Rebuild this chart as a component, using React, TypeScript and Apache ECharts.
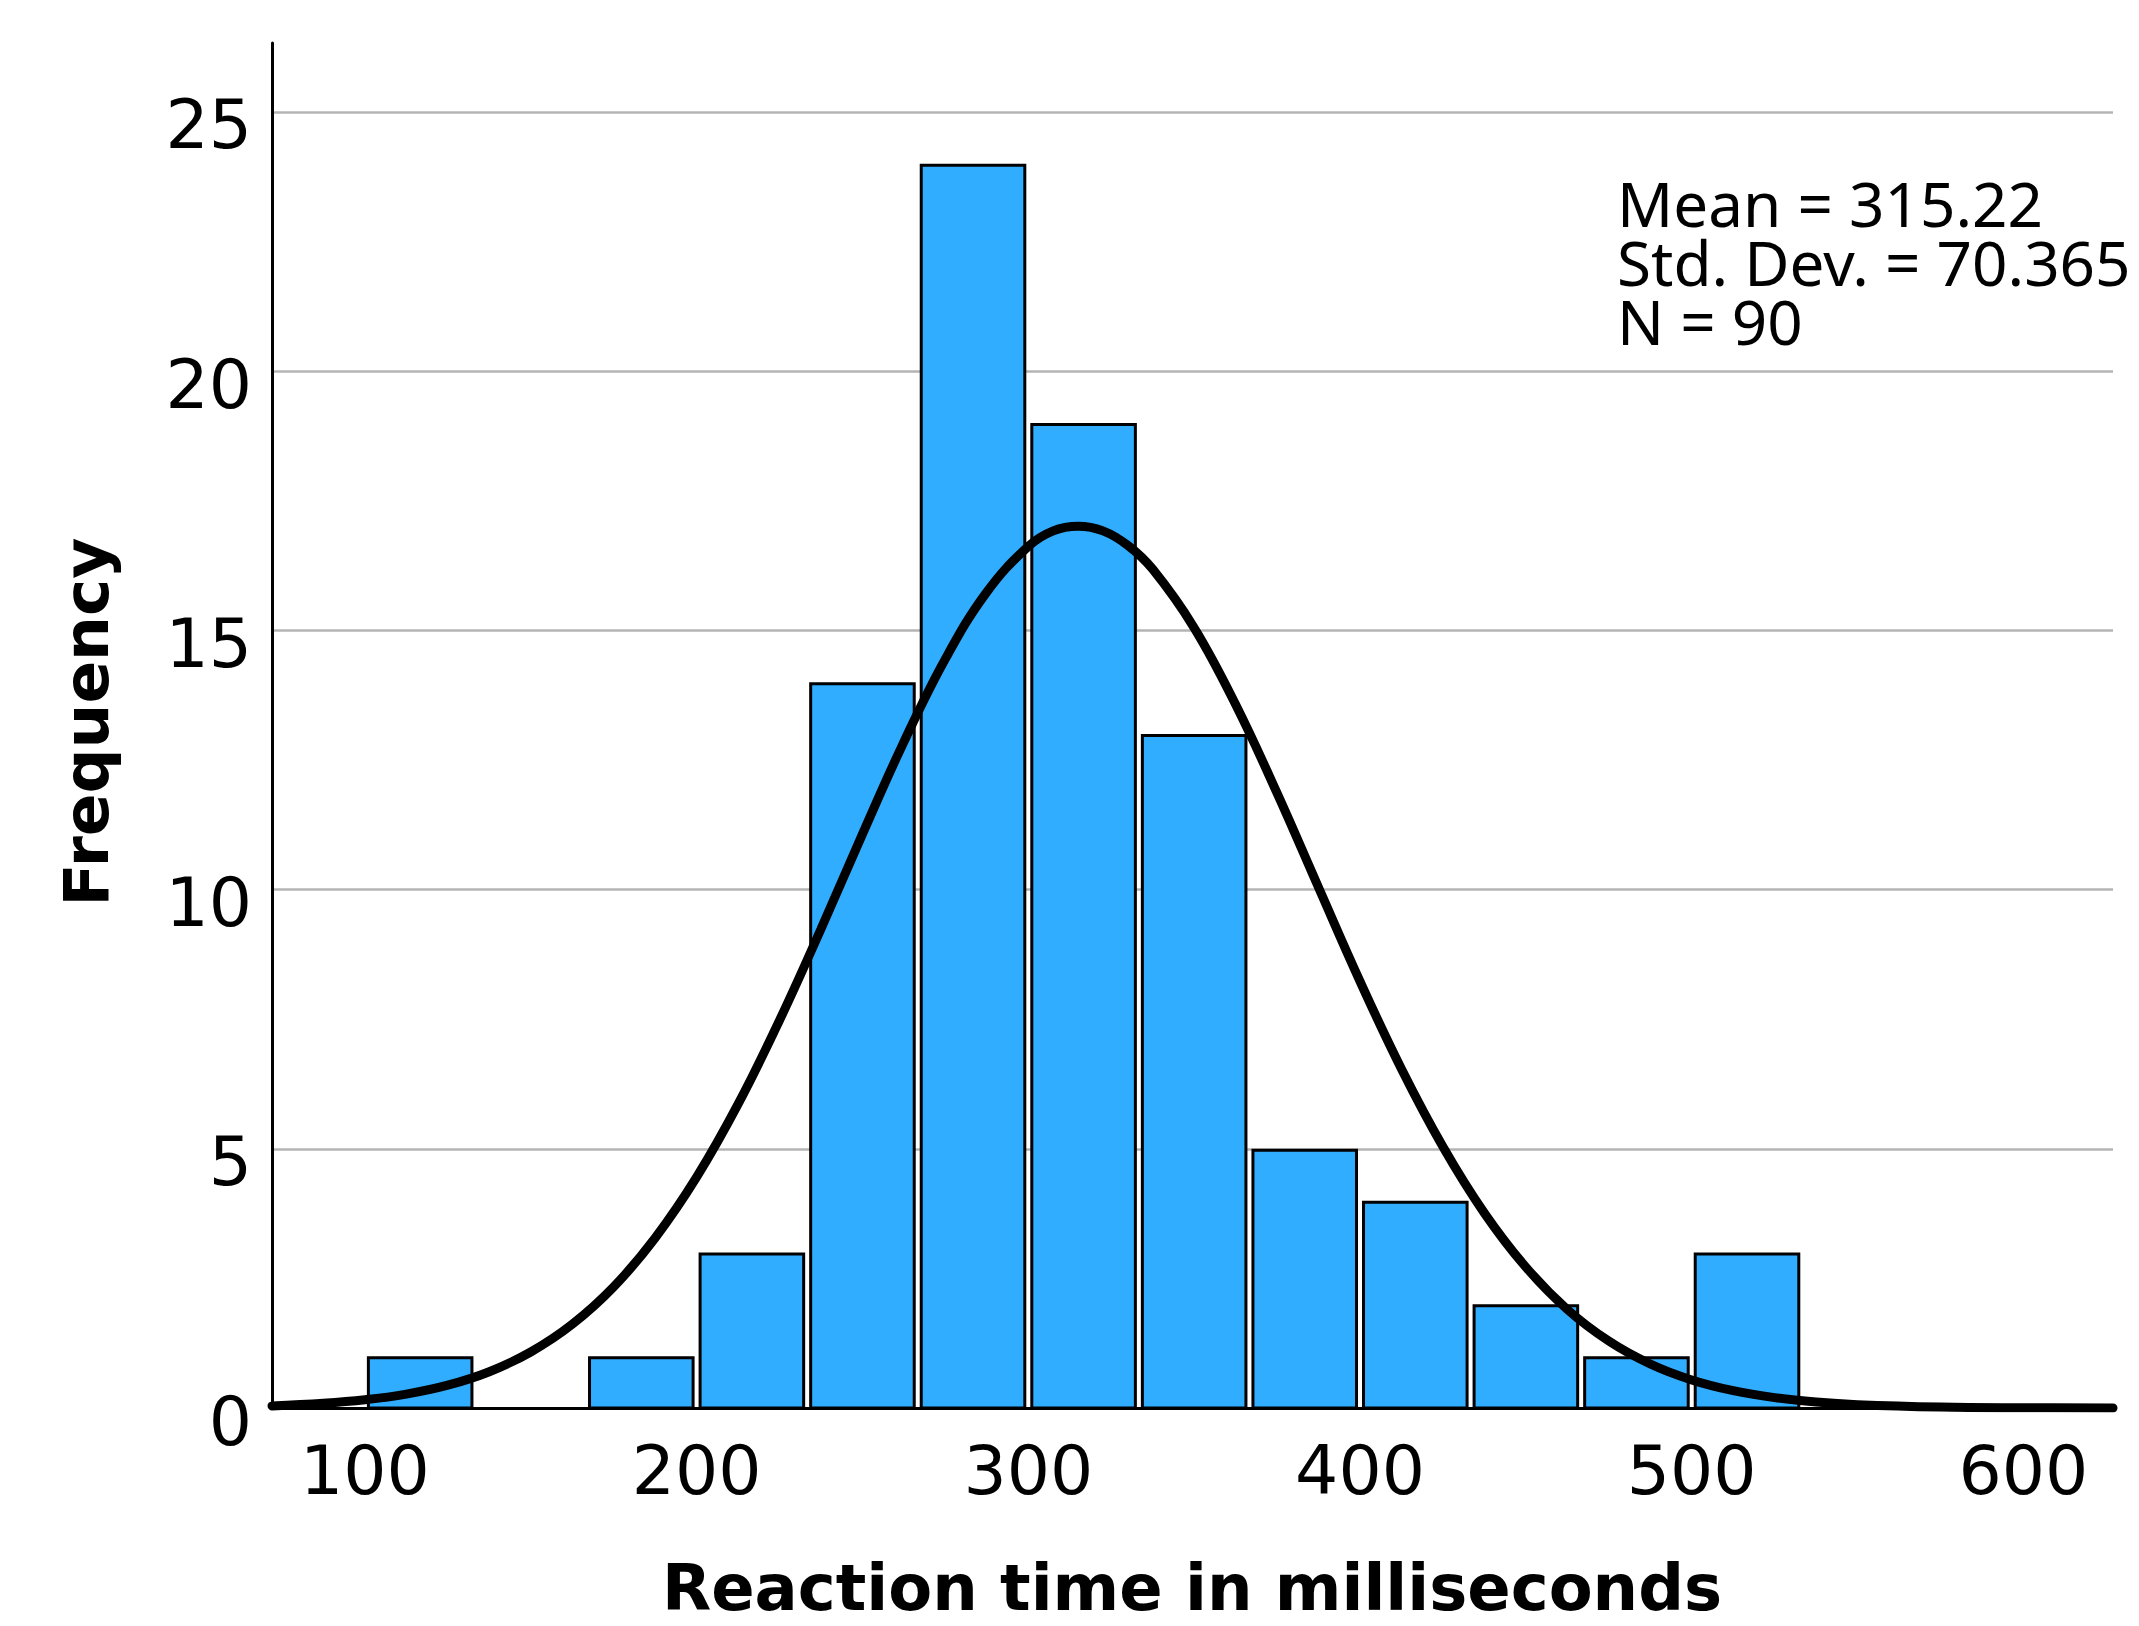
import React, { useEffect, useRef } from 'react';
import * as echarts from 'echarts';

// Histogram bins (reaction time, ms) and their frequencies
const binStarts = [100, 133.333, 166.667, 200, 233.333, 266.667, 300, 333.333, 366.667, 400, 433.333, 466.667, 500];
const binWidth = 33.333;
const frequencies = [1, 0, 1, 3, 14, 24, 19, 13, 5, 4, 2, 1, 3];

// Fitted normal curve
const curveX = [72, 87.5, 100, 112.5, 125, 137.5, 150, 162.5, 175, 187.5, 200, 212.5, 225, 237.5, 250, 262.5, 275, 287.5, 300, 307.5, 315, 322.5, 330, 337.5, 350, 362.5, 375, 387.5, 400, 412.5, 425, 437.5, 450, 462.5, 475, 487.5, 500, 512.5, 525, 537.5, 550, 575, 600, 627];
const curveY = [0.04, 0.09, 0.158, 0.268, 0.44, 0.70, 1.08, 1.614, 2.336, 3.28, 4.452, 5.86, 7.478, 9.24, 11.07, 12.85, 14.45, 15.74, 16.62, 16.92, 17.01, 16.92, 16.64, 16.18, 15.05, 13.57, 11.86, 10.04, 8.23, 6.54, 5.04, 3.76, 2.717, 1.90, 1.291, 0.849, 0.541, 0.334, 0.2, 0.116, 0.065, 0.019, 0.005, 0.001];

const xTickValues = [100, 200, 300, 400, 500, 600];
const statsLines = ['Mean = 315.22', 'Std. Dev. = 70.365', 'N = 90'];
const xAxisTitle = 'Reaction time in milliseconds';
const yAxisTitle = 'Frequency';

export default function App() {
  const ref = useRef<HTMLDivElement>(null);
  useEffect(() => {
    if (!ref.current) return;
    const chart = echarts.init(ref.current, null, { renderer: 'svg' });
    const barData = binStarts.map((s, i) => [s, s + binWidth, frequencies[i]]);
    const option: any = {
      animation: false,
      backgroundColor: '#fff',
      grid: { left: 272, right: 26, top: 43, bottom: 218 },
      xAxis: {
        type: 'value',
        min: 72,
        max: 627,
        axisLine: { show: true, onZero: false, lineStyle: { color: '#000', width: 3 } },
        axisTick: { show: false },
        splitLine: { show: false },
        axisLabel: {
          customValues: xTickValues,
          fontFamily: 'DejaVu Sans',
          fontSize: 68,
          color: '#000',
          margin: 28,
        },
      },
      yAxis: {
        type: 'value',
        min: 0,
        max: 26.33,
        interval: 5,
        axisLine: { show: true, lineStyle: { color: '#000', width: 3 } },
        axisTick: { show: false },
        axisLabel: {
          fontFamily: 'DejaVu Sans',
          fontSize: 68,
          color: '#000',
          margin: 20,
          showMaxLabel: false,
          verticalAlign: 'top',
          lineHeight: 26,
          formatter: (v: number) => (v % 5 === 0 ? String(v) : ''),
        },
        splitLine: {
          show: true,
          showMinLine: false,
          showMaxLine: false,
          lineStyle: { color: '#b4b4b4', width: 2.5 },
        },
      },
      series: [
        {
          type: 'custom',
          data: barData,
          encode: { x: [0, 1], y: 2 },
          z: 2,
          renderItem: (params: any, api: any) => {
            const x0 = api.value(0);
            const x1 = api.value(1);
            const f = api.value(2);
            if (!(f > 0)) return null;
            const p0 = api.coord([x0, f]);
            const p1 = api.coord([x1, 0]);
            const inset = 3.5;
            return {
              type: 'rect',
              shape: {
                x: p0[0] + inset,
                y: p0[1] + 1.5,
                width: p1[0] - p0[0] - 2 * inset,
                height: p1[1] - p0[1] - 1.5,
              },
              style: { fill: '#31adff', stroke: '#000', lineWidth: 3 },
            };
          },
        },
        {
          type: 'line',
          data: curveX.map((x, i) => [x, curveY[i]]),
          smooth: 0.4,
          symbol: 'none',
          z: 5,
          lineStyle: { color: '#000', width: 9, cap: 'round' },
        },
      ],
      graphic: [
        {
          type: 'text',
          x: 86,
          y: 722,
          rotation: Math.PI / 2,
          style: {
            text: yAxisTitle,
            fontFamily: 'DejaVu Sans',
            fontWeight: 'bold',
            fontSize: 63,
            fill: '#000',
            align: 'center',
            verticalAlign: 'middle',
          },
        },
        {
          type: 'text',
          x: 1192,
          y: 1588,
          style: {
            text: xAxisTitle,
            fontFamily: 'DejaVu Sans',
            fontWeight: 'bold',
            fontSize: 64,
            fill: '#000',
            align: 'center',
            verticalAlign: 'middle',
          },
        },
        {
          type: 'text',
          x: 1617,
          y: 173,
          style: {
            text: statsLines.join('\n'),
            fontFamily: 'Noto Sans',
            fontSize: 62,
            lineHeight: 59,
            fill: '#000',
            align: 'left',
            verticalAlign: 'top',
          },
        },
      ],
    };
    chart.setOption(option);
    return () => chart.dispose();
  }, []);
  return (
    <div
      ref={ref}
      style={{ position: 'fixed', left: 0, top: 0, width: 2139, height: 1626 }}
    />
  );
}
